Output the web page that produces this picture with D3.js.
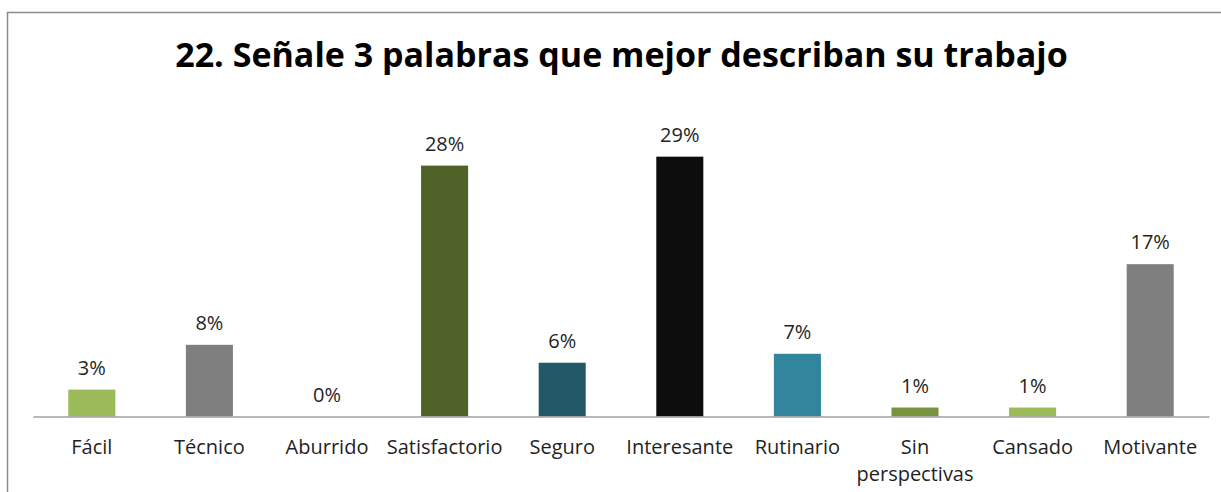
<!DOCTYPE html>
<html>
<head>
<meta charset="utf-8">
<script src="https://cdn.jsdelivr.net/npm/d3@7"></script>
<style>
  html, body { margin: 0; padding: 0; background: #ffffff; }
  svg { display: block; }
  text { font-family: "Open Sans", "Noto Sans", sans-serif; }
</style>
</head>
<body>
<svg id="chart" width="1221" height="492"></svg>
<script>
// Survey answers: share of mentions per word
const categories = ["Fácil", "Técnico", "Aburrido", "Satisfactorio", "Seguro",
                    "Interesante", "Rutinario", "Sin perspectivas", "Cansado", "Motivante"];
const shares = [0.03, 0.08, 0.00, 0.28, 0.06, 0.29, 0.07, 0.01, 0.01, 0.17];
const barColors = ["#9bbb59", "#7f7f7f", "#4f81bd", "#4f6228", "#215968",
                   "#0d0d0d", "#31859c", "#77933c", "#9bbb59", "#7f7f7f"];
const titleText = "22. Señale 3 palabras que mejor describan su trabajo";

const W = 1221, H = 492;
const svg = d3.select("#chart");

// Chart frame
svg.append("rect")
  .attr("x", 7.5).attr("y", 12.5)
  .attr("width", W + 20).attr("height", H + 20)
  .attr("fill", "#ffffff")
  .attr("stroke", "#8c8c8c").attr("stroke-width", 1.5);

// Title, fitted to its width
const title = svg.append("text")
  .attr("x", 621.5).attr("y", 67)
  .attr("text-anchor", "middle")
  .attr("font-weight", 700)
  .attr("fill", "#000000")
  .attr("font-size", 33)
  .text(titleText);
const tw = title.node().getComputedTextLength();
title.attr("font-size", 33 * 893 / tw);

// Scales
const baseY = 416.5;
const x = d3.scaleBand()
  .domain(categories)
  .range([33, 1209])
  .paddingInner(0.6)
  .paddingOuter(0.3);
const y = d3.scaleLinear()
  .domain([0, 0.35])
  .range([baseY, 102.9]);

const data = categories.map((c, i) => ({ cat: c, v: shares[i], color: barColors[i] }));

// Bars
svg.append("g").selectAll("rect")
  .data(data)
  .join("rect")
  .attr("x", d => x(d.cat))
  .attr("width", x.bandwidth())
  .attr("y", d => y(d.v))
  .attr("height", d => baseY - y(d.v))
  .attr("fill", d => d.color);

// Value labels
const pct = d3.format(".0%");
svg.append("g").selectAll("text")
  .data(data)
  .join("text")
  .attr("x", d => x(d.cat) + x.bandwidth() / 2)
  .attr("y", d => y(d.v) - 15)
  .attr("text-anchor", "middle")
  .attr("font-size", 20)
  .attr("fill", "#1f1f1f")
  .text(d => pct(d.v));

// Category axis
const axis = svg.append("g")
  .attr("transform", `translate(0,${baseY})`)
  .call(d3.axisBottom(x).tickSize(0).tickSizeOuter(0).tickPadding(0));
axis.select(".domain").attr("stroke", "#a0a0a0").attr("stroke-width", 1.5);
axis.selectAll(".tick text").remove();

// Tick labels, wrapped when wider than a band step
axis.selectAll(".tick").each(function(d) {
  const t = d3.select(this).append("text")
    .attr("y", 37.5)
    .attr("text-anchor", "middle")
    .attr("font-size", 20)
    .attr("fill", "#1f1f1f");
  const words = d.split(" ");
  let line = [];
  let tspan = t.append("tspan").attr("x", 0).attr("dy", 0);
  words.forEach(w => {
    line.push(w);
    tspan.text(line.join(" "));
    if (tspan.node().getComputedTextLength() > x.step() && line.length > 1) {
      line.pop();
      tspan.text(line.join(" "));
      line = [w];
      tspan = t.append("tspan").attr("x", 0).attr("dy", 26.7).text(w);
    }
  });
});
</script>
</body>
</html>
